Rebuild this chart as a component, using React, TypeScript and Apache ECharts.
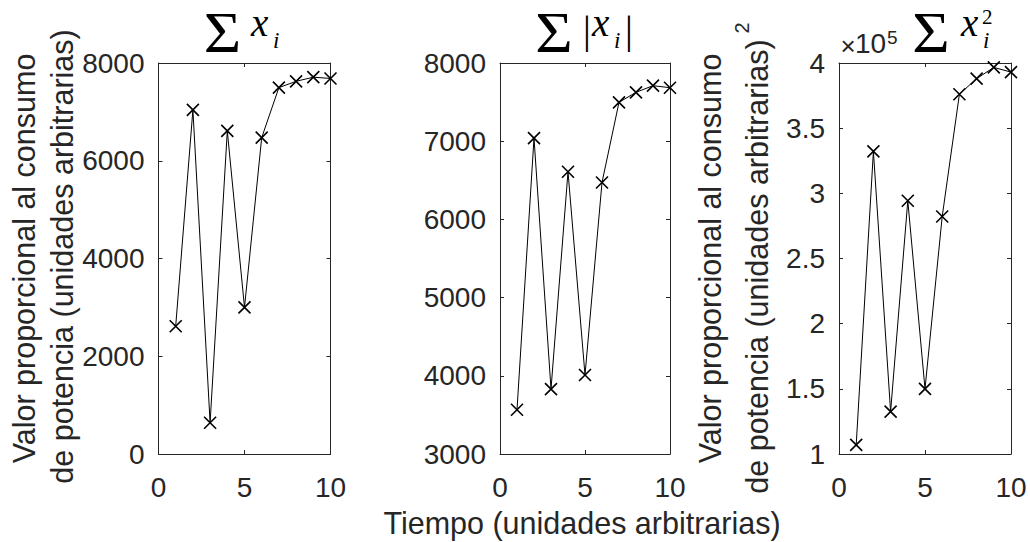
import { useEffect, useRef } from "react";
import * as echarts from "echarts";

// Time steps shared by the three panels
const tiempo = [1, 2, 3, 4, 5, 6, 7, 8, 9, 10];

// Sum of samples, sum of absolute values, sum of squares
const sumaX = [2615, 7040, 640, 6610, 3000, 6472, 7497, 7625, 7710, 7684];
const sumaAbsX = [3566, 7040, 3830, 6610, 4010, 6472, 7497, 7625, 7710, 7684];
const sumaX2 = [107000, 332200, 132500, 294300, 150000, 282200, 376000, 388000, 396600, 393000];

// Tick values
const xTicks = [0, 5, 10];
const yTicks1 = [0, 2000, 4000, 6000, 8000];
const yTicks2 = [3000, 4000, 5000, 6000, 7000, 8000];
const yTicks3 = [100000, 150000, 200000, 250000, 300000, 350000, 400000];
const exponente3 = 5;

// Axis titles
const yTitleLine1 = "Valor proporcional al consumo";
const yTitleLine2 = "de potencia (unidades arbitrarias)";
const xTitle = "Tiempo (unidades arbitrarias)";

const INK = "#262626";
const SANS = "'Liberation Sans', Arial, Helvetica, sans-serif";
const SERIF = "'Liberation Serif', 'Times New Roman', serif";

const range = (t: number[]) => ({ min: t[0], max: t[t.length - 1], interval: t[1] - t[0] });

type Panel = {
  grid: { left: number; top: number; width: number; height: number };
  yTicks: number[];
  values: number[];
  fmt: (v: number) => string;
};

const panels: Panel[] = [
  { grid: { left: 158.5, top: 63, width: 172, height: 391 }, yTicks: yTicks1, values: sumaX, fmt: (v) => String(v) },
  { grid: { left: 500, top: 63, width: 170, height: 391 }, yTicks: yTicks2, values: sumaAbsX, fmt: (v) => String(v) },
  {
    grid: { left: 839, top: 63, width: 172, height: 391 },
    yTicks: yTicks3,
    values: sumaX2,
    fmt: (v) => String(Math.round((v / Math.pow(10, exponente3)) * 100) / 100),
  },
];

const axisLine = { show: true, onZero: false, lineStyle: { color: INK, width: 1 } };
const axisTick = { show: true, inside: true, length: 4, lineStyle: { color: INK, width: 1 } };
const tickFont = { fontFamily: SANS, fontSize: 28, color: INK };

type TextOpts = {
  rot?: number;
  align?: string;
  va?: string;
  fill?: string;
  lh?: number;
  sx?: number;
  rich?: Record<string, any>;
};

function text(x: number, y: number, str: string, font: string, opts: TextOpts = {}) {
  const align = opts.align || "center";
  const va = opts.va || "middle";
  const style: any = {
    text: str,
    font,
    fill: opts.fill || INK,
    align,
    verticalAlign: va,
    textAlign: align,
    textVerticalAlign: va,
  };
  if (opts.lh) style.lineHeight = opts.lh;
  if (opts.rich) style.rich = opts.rich;
  const el: any = { type: "text", x, y, rotation: opts.rot || 0, silent: true, style };
  if (opts.sx) el.scaleX = opts.sx;
  return el;
}

function buildOption() {
  const grid = panels.map((p) => ({ ...p.grid, containLabel: false }));
  const xAxis: any[] = [];
  const yAxis: any[] = [];
  const series: any[] = [];

  panels.forEach((p, i) => {
    const xr = range(xTicks);
    const yr = range(p.yTicks);
    xAxis.push({
      type: "value", gridIndex: i, position: "bottom", ...xr,
      axisLine, axisTick, splitLine: { show: false },
      axisLabel: { show: true, margin: 19, ...tickFont },
    });
    xAxis.push({
      type: "value", gridIndex: i, position: "top", ...xr,
      axisLine, axisTick, splitLine: { show: false }, axisLabel: { show: false },
    });
    yAxis.push({
      type: "value", gridIndex: i, position: "left", ...yr,
      axisLine, axisTick, splitLine: { show: false },
      axisLabel: { show: true, margin: 14, formatter: p.fmt, ...tickFont },
    });
    yAxis.push({
      type: "value", gridIndex: i, position: "right", ...yr,
      axisLine, axisTick, splitLine: { show: false }, axisLabel: { show: false },
    });
    series.push({
      type: "line",
      xAxisIndex: 2 * i,
      yAxisIndex: 2 * i,
      data: tiempo.map((t, k) => [t, p.values[k]]),
      clip: false,
      silent: true,
      symbol: "path://M0 0L10 10M10 0L0 10",
      symbolSize: 12,
      showAllSymbol: true,
      lineStyle: { color: "#000", width: 1 },
      itemStyle: { color: "#000", borderColor: "#000", borderWidth: 1.6 },
    });
  });

  const labelFont = `30.5px ${SANS}`;
  const titleSigma = `56px ${SERIF}`;
  const titleVar = `italic 39px ${SERIF}`;
  const titleSub = `italic 23px ${SERIF}`;
  const titleSup = `21px ${SERIF}`;
  const titleBar = `39px ${SERIF}`;
  const black = "#000";
  const sigma = (cx: number) => text(cx, 33, "Σ", titleSigma, { fill: black, lh: 40, sx: 1.15 });

  const graphic: any[] = [
    // y-axis titles, left panel
    text(24, 258.5, yTitleLine1, labelFont, { rot: Math.PI / 2 }),
    text(62, 256.5, yTitleLine2, labelFont, { rot: Math.PI / 2 }),
    // y-axis titles, right panel (squared units, superscript in the rotated line)
    text(710, 258.5, yTitleLine1, labelFont, { rot: Math.PI / 2 }),
    text(757, 258, yTitleLine2 + "{sup|2}", labelFont, {
      rot: Math.PI / 2,
      lh: 50,
      rich: { sup: { fontFamily: SANS, fontSize: 20, lineHeight: 20, verticalAlign: "top", padding: [0, 0, 0, 6], fill: INK, color: INK } },
    }),
    // shared x-axis title
    text(582, 523, xTitle, labelFont),

    // title: Σ x_i
    sigma(222.5),
    text(251, 22, "x", titleVar, { align: "left", fill: black, lh: 24 }),
    text(273, 40, "i", titleSub, { align: "left", fill: black, lh: 14 }),

    // title: Σ |x_i|
    sigma(554),
    text(587, 29, "|", titleBar, { fill: black, lh: 40 }),
    text(592, 22, "x", titleVar, { align: "left", fill: black, lh: 24 }),
    text(614, 40, "i", titleSub, { align: "left", fill: black, lh: 14 }),
    text(629, 29, "|", titleBar, { fill: black, lh: 40 }),

    // exponent of the right panel's y axis
    text(848, 46, "×", `26px ${SANS}`, { lh: 20 }),
    text(855, 43, "10", `28px ${SANS}`, { align: "left", lh: 22 }),
    text(887, 37, String(exponente3), `19px ${SANS}`, { align: "left", lh: 14 }),

    // title: Σ x_i^2
    sigma(931),
    text(961, 22, "x", titleVar, { align: "left", fill: black, lh: 24 }),
    text(983, 40, "i", titleSub, { align: "left", fill: black, lh: 14 }),
    text(982, 16.5, "2", titleSup, { align: "left", fill: black, lh: 14 }),
  ];

  return {
    animation: false,
    backgroundColor: "#ffffff",
    grid,
    xAxis,
    yAxis,
    series,
    graphic,
  };
}

export default function App() {
  const ref = useRef<HTMLDivElement>(null);
  useEffect(() => {
    if (!ref.current) return;
    const chart = echarts.init(ref.current, undefined, { renderer: "svg" });
    chart.setOption(buildOption() as any);
    return () => chart.dispose();
  }, []);
  return (
    <div
      ref={ref}
      style={{ position: "absolute", left: 0, top: 0, width: 1030, height: 542, background: "#fff" }}
    />
  );
}
